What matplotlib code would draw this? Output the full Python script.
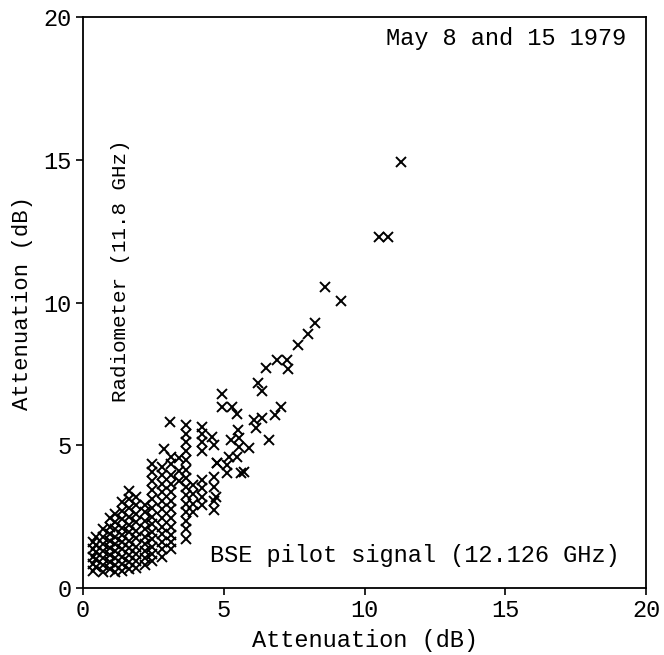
import matplotlib
matplotlib.use("Agg")
import matplotlib.pyplot as plt

# Attenuation pairs (dB)
# x: BSE pilot signal (12.126 GHz), y: radiometer (11.8 GHz)
bse_atten = [
    0.35, 0.35, 0.35, 0.35, 0.35,
    0.45, 0.45, 0.45, 0.45, 0.45,
    0.70, 0.70, 0.70, 0.70, 0.70, 0.70, 0.70,
    0.95, 0.95, 0.95, 0.95, 0.95, 0.95, 0.95, 0.95,
    1.15, 1.15, 1.15, 1.15, 1.15, 1.15, 1.15, 1.15, 1.15,
    1.40, 1.40, 1.40, 1.40, 1.40, 1.40, 1.40, 1.40, 1.40, 1.40,
    1.65, 1.65, 1.65, 1.65, 1.65, 1.65, 1.65, 1.65, 1.65, 1.65, 1.65,
    1.90, 1.90, 1.90, 1.90, 1.90, 1.90, 1.90, 1.90, 1.90, 1.90,
    2.20, 2.20, 2.20, 2.20, 2.20, 2.20, 2.20, 2.20, 2.20,
    2.45, 2.45, 2.45, 2.45, 2.45, 2.45, 2.45, 2.45, 2.45, 2.45, 2.45, 2.45, 2.45,
    2.80, 2.80, 2.80, 2.80, 2.80, 2.80, 2.80, 2.80, 2.80, 2.80, 2.80, 2.80, 2.88,
    3.12, 3.12, 3.12, 3.12, 3.12, 3.12, 3.12, 3.12, 3.12, 3.12, 3.12, 3.12, 3.10,
    3.42, 3.42, 3.42,
    3.66, 3.66, 3.66, 3.66, 3.66, 3.66, 3.66, 3.66, 3.66, 3.66, 3.66, 3.66, 3.66, 3.66,
    3.90, 3.90, 3.90, 3.90,
    4.22, 4.22, 4.22, 4.22, 4.22, 4.22, 4.22, 4.22,
    4.65, 4.65, 4.65, 4.65, 4.72, 4.76, 4.65, 4.57,
    4.93, 4.93, 5.29, 5.46, 5.50, 5.25, 5.53, 5.46, 5.19, 5.12, 5.12, 4.76, 5.60,
    5.53, 5.71, 5.89,
    6.07, 6.14, 6.35, 6.59, 6.81, 7.05, 6.35, 6.21, 6.49, 6.88, 7.24, 7.27,
    7.65, 8.01, 8.25, 8.61, 9.17, 10.51, 10.82, 11.28,
]
rad_atten = [
    0.60, 0.85, 1.10, 1.35, 1.60,
    0.75, 1.00, 1.25, 1.50, 1.80,
    0.55, 0.80, 1.05, 1.30, 1.55, 1.80, 2.05,
    0.65, 0.90, 1.15, 1.40, 1.65, 1.90, 2.15, 2.45,
    0.55, 0.80, 1.05, 1.30, 1.55, 1.80, 2.05, 2.30, 2.60,
    0.60, 0.85, 1.10, 1.35, 1.60, 1.85, 2.10, 2.40, 2.70, 3.00,
    0.65, 0.90, 1.15, 1.40, 1.65, 1.95, 2.20, 2.50, 2.80, 3.10, 3.40,
    0.70, 0.95, 1.20, 1.45, 1.75, 2.00, 2.30, 2.60, 2.90, 3.20,
    0.80, 1.05, 1.30, 1.55, 1.80, 2.05, 2.35, 2.65, 2.90,
    0.95, 1.20, 1.45, 1.70, 1.95, 2.25, 2.50, 2.80, 3.10, 3.45, 3.75, 4.05, 4.35,
    1.10, 1.35, 1.60, 1.90, 2.15, 2.45, 2.75, 3.05, 3.35, 3.65, 3.95, 4.25, 4.87,
    1.35, 1.60, 1.85, 2.15, 2.45, 2.75, 3.05, 3.35, 3.65, 3.95, 4.35, 4.60, 5.80,
    3.75, 4.10, 4.55,
    1.70, 2.05, 2.35, 2.65, 2.95, 3.25, 3.55, 3.85, 4.15, 4.50, 4.80, 5.10, 5.40, 5.70,
    2.65, 2.95, 3.30, 3.60,
    2.90, 3.20, 3.50, 3.80, 4.80, 5.10, 5.40, 5.65,
    2.73, 3.05, 3.54, 3.89, 3.19, 4.38, 5.00, 5.30,
    6.80, 6.34, 6.34, 6.09, 5.53, 5.18, 4.94, 4.59, 4.59, 4.31, 4.03, 4.38, 4.03,
    5.25, 4.06, 4.90,
    5.88, 5.60, 5.95, 5.18, 6.06, 6.34, 6.90, 7.18, 7.71, 7.99, 7.99, 7.67,
    8.51, 8.90, 9.28, 10.54, 10.05, 12.29, 12.29, 14.92,
]

axis_ticks = [0, 5, 10, 15, 20]
title_text = "May 8 and 15 1979"
x_note = "BSE pilot signal (12.126 GHz)"
y_note = "Radiometer (11.8 GHz)"
axis_label = "Attenuation (dB)"

plt.rcParams['font.family'] = ['Liberation Mono', 'DejaVu Sans Mono']

fig = plt.figure(figsize=(6.64, 6.55), dpi=100)
ax = fig.add_axes([83 / 664, 1 - 588 / 655, 563 / 664, 571 / 655])

ax.plot(bse_atten, rad_atten, linestyle='none', marker='x', color='black',
        markersize=7, markeredgewidth=1.4)

ax.set_xlim(0, 20)
ax.set_ylim(0, 20)
ax.set_xticks(axis_ticks)
ax.set_yticks(axis_ticks)
ax.tick_params(direction='out', length=5, width=1.2, labelsize=17, pad=3)
for s in ax.spines.values():
    s.set_linewidth(1.3)

ax.set_xlabel(axis_label, fontsize=17, labelpad=5)
ax.set_ylabel(axis_label, fontsize=16, labelpad=8)

ax.text(10.75, 19.25, title_text, fontsize=17, va='center', ha='left')
ax.text(4.5, 1.15, x_note, fontsize=17, va='center', ha='left')
ax.text(1.33, 11.1, y_note, fontsize=15, va='center', ha='center', rotation=90)

fig.savefig("out.png", dpi=100)
